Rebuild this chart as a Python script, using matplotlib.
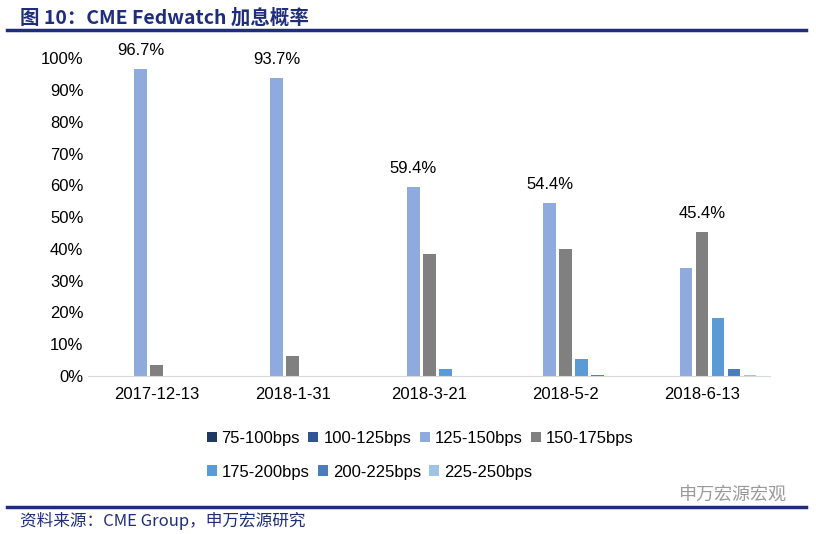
import numpy as np
import matplotlib.pyplot as plt
from matplotlib.lines import Line2D

plt.rcParams['font.family'] = ['Liberation Sans', 'Noto Sans CJK SC', 'DejaVu Sans']

dates = ['2017-12-13', '2018-1-31', '2018-3-21', '2018-5-2', '2018-6-13']
ranges = ['75-100bps', '100-125bps', '125-150bps', '150-175bps',
          '175-200bps', '200-225bps', '225-250bps']

# probability (%) per range, one list per date
p_75_100 = [0, 0, 0, 0, 0]
p_100_125 = [0, 0, 0, 0, 0]
p_125_150 = [96.7, 93.7, 59.4, 54.4, 34.0]
p_150_175 = [3.3, 6.3, 38.4, 40.0, 45.4]
p_175_200 = [0, 0, 2.2, 5.3, 18.2]
p_200_225 = [0, 0, 0, 0.3, 2.2]
p_225_250 = [0, 0, 0, 0, 0.2]

colors = ['#1F3864', '#2F5597', '#8FAADC', '#808080', '#5B9BD5', '#4A7EBB', '#9DC3E6']
navy = '#1F2D7A'

series = [p_75_100, p_100_125, p_125_150, p_150_175, p_175_200, p_200_225, p_225_250]

fig = plt.figure(figsize=(8.16, 5.34), dpi=100)
ax = fig.add_axes([0.108, 0.296, 0.836, 0.595])

x = np.arange(len(dates))
step = 0.117
width = 0.093
for i, (vals, col, lab) in enumerate(zip(series, colors, ranges)):
    ax.bar(x + (i - 3) * step, vals, width, color=col, label=lab)

# label the largest bar of each date
data = np.array(series)
for j in range(len(dates)):
    k = int(np.argmax(data[:, j]))
    v = data[k, j]
    ax.text(x[j] + (k - 3) * step, v + 3.5, f'{v:.1f}%', ha='center', va='bottom', fontsize=12)

ax.set_xlim(-0.5, len(dates) - 0.5)
ax.set_ylim(0, 100)
ax.set_yticks(np.arange(0, 101, 10))
ax.set_yticklabels([f'{t}%' for t in range(0, 101, 10)], fontsize=12)
ax.set_xticks(x)
ax.set_xticklabels(dates, fontsize=12)
ax.tick_params(axis='both', length=0)
ax.tick_params(axis='x', pad=8)
for s in ['top', 'right', 'left']:
    ax.spines[s].set_visible(False)
ax.spines['bottom'].set_color('#D9D9D9')

h, l = ax.get_legend_handles_labels()
leg_kw = dict(loc='center left', frameon=False, fontsize=12, handlelength=0.6,
              handleheight=0.6, handletextpad=0.3, columnspacing=0.5, borderaxespad=0)
fig.legend(h[:4], l[:4], bbox_to_anchor=(0.245, 0.179), ncol=4, **leg_kw)
fig.legend(h[4:], l[4:], bbox_to_anchor=(0.245, 0.116), ncol=3, **leg_kw)

fig.text(0.025, 0.967, '图 10：CME Fedwatch 加息概率', fontsize=14, fontweight='bold',
         color=navy, va='center', family=['Noto Sans CJK SC', 'DejaVu Sans'])
fig.add_artist(Line2D([0.008, 0.988], [0.944, 0.944], color=navy, lw=2.5))
fig.add_artist(Line2D([0.008, 0.988], [0.051, 0.051], color=navy, lw=2.5))
fig.text(0.025, 0.024, '资料来源：CME Group，申万宏源研究', fontsize=12, color=navy,
         va='center', family=['Noto Sans CJK SC', 'DejaVu Sans'])
fig.text(0.965, 0.073, '申万宏源宏观', fontsize=13, color='#9A9A9A', ha='right',
         va='center', family=['Noto Sans CJK SC', 'DejaVu Sans'])

fig.savefig('out.png', dpi=100)
